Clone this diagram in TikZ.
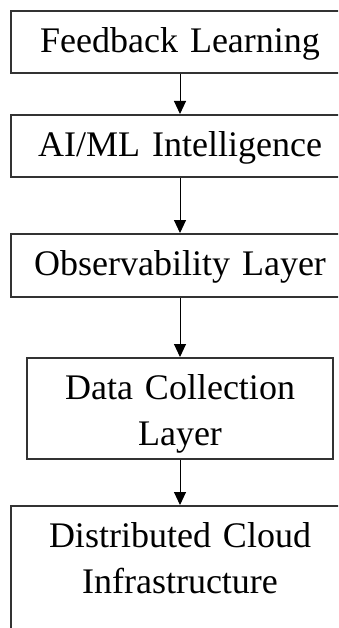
\documentclass[tikz,border=0pt]{standalone}
\usepackage{fontspec}
\setmainfont{Liberation Serif}
\usetikzlibrary{arrows.meta}

\tikzset{
  layerbox/.style={draw=black!80, line width=1.6pt, anchor=north, inner sep=0pt,
    text width=#1, minimum width=#1, align=center, text height=42pt,
    font=\fontsize{36pt}{46pt}\selectfont},
  flow/.style={-{Triangle[length=13pt,width=12pt]}, line width=1pt, black}
}

\begin{document}
\begin{tikzpicture}[x=1pt,y=-1pt]
\useasboundingbox (0,0) rectangle (338,628);
\clip (0,0) rectangle (338,628);

% layers, top to bottom
\node[layerbox=338pt, text depth=20pt] (feedback) at (180,10) {Feedback Learning};
\node[layerbox=338pt, text depth=20pt] (aiml) at (180,114) {AI/ML Intelligence};
\node[layerbox=338pt, text depth=21pt] (observ) at (180,233) {Observability Layer};
\node[layerbox=306pt, text depth=59pt] (datacoll) at (180,357) {Data Collection\\Layer};
\node[layerbox=338pt, text depth=115pt] (infra) at (180,505) {Distributed Cloud\\Infrastructure};

% arrows
\draw[flow] (feedback) -- (aiml);
\draw[flow] (aiml) -- (observ);
\draw[flow] (observ) -- (datacoll);
\draw[flow] (datacoll) -- (infra);

\end{tikzpicture}
\end{document}
